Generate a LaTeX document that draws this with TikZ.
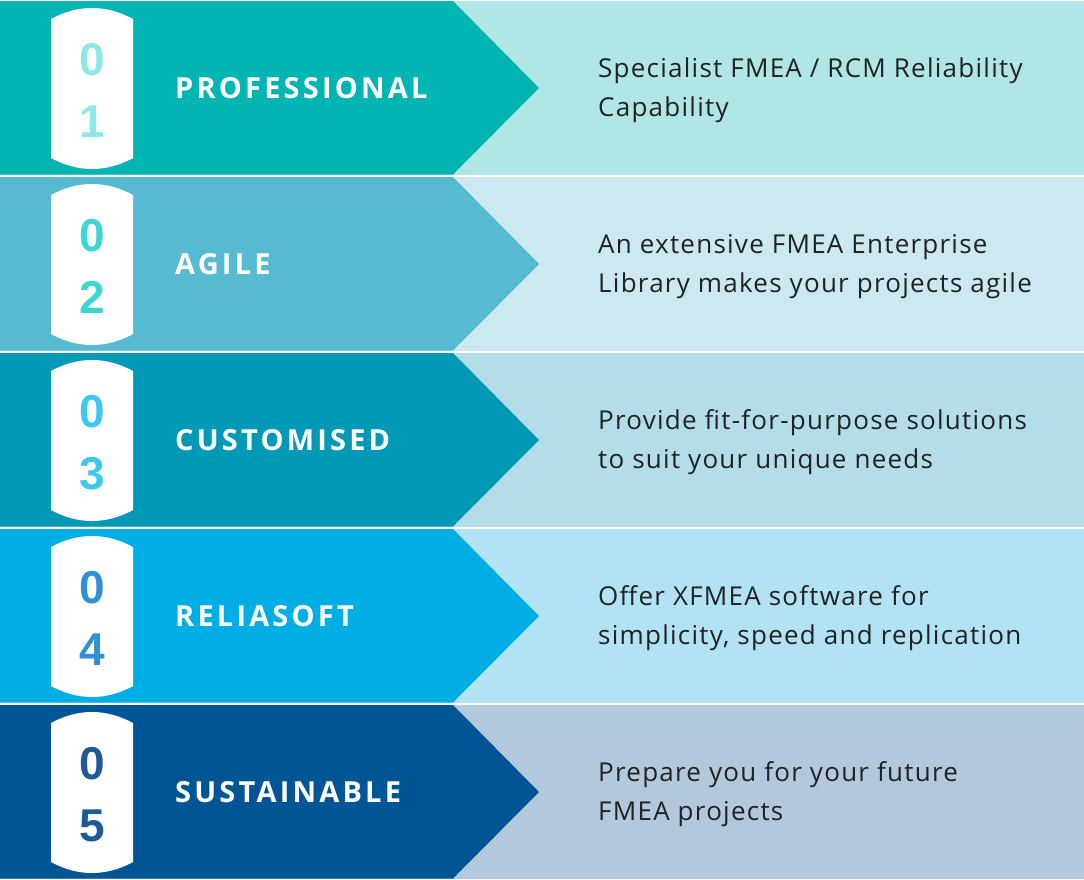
\documentclass[tikz,border=0pt]{standalone}
\usepackage{fontspec}
\newfontfamily\titlefont{Open Sans}[LetterSpace=11]
\newfontfamily\bodyfont{Open Sans}[LetterSpace=4.8]
\newfontfamily\digitfont{Liberation Sans}
\definecolor{darkA}{HTML}{00B5B2}
\definecolor{lightA}{HTML}{B0E7E6}
\definecolor{digA}{HTML}{8EE8E6}
\definecolor{darkB}{HTML}{56BAD0}
\definecolor{lightB}{HTML}{CCE9F1}
\definecolor{digB}{HTML}{3DD6D3}
\definecolor{darkC}{HTML}{0299B7}
\definecolor{lightC}{HTML}{B3DEE9}
\definecolor{digC}{HTML}{3CC8EF}
\definecolor{darkD}{HTML}{00AEE6}
\definecolor{lightD}{HTML}{B2E3F4}
\definecolor{digD}{HTML}{3090D4}
\definecolor{darkE}{HTML}{005595}
\definecolor{lightE}{HTML}{B2C8DC}
\definecolor{digE}{HTML}{1F5A96}
\definecolor{bodytext}{HTML}{222222}
\tikzset{
  titlelabel/.style={anchor=base west,inner sep=0pt,text=white,font=\titlefont\bfseries\fontsize{29}{32}\selectfont},
  bodylabel/.style={anchor=base west,inner sep=0pt,text=bodytext,font=\bodyfont\fontsize{26}{38.5}\selectfont},
  digitlabel/.style={anchor=base,inner sep=0pt,font=\digitfont\bfseries\fontsize{46}{50}\selectfont},
}
\begin{document}
\begin{tikzpicture}[x=1pt,y=-1pt]
\useasboundingbox (0,0) rectangle (1084,879);
\fill[white] (0,0) rectangle (1084,879);
\foreach \i/\L/\T/\A/\B in {
  1/A/PROFESSIONAL/{Specialist FMEA / RCM Reliability}/Capability,
  2/B/AGILE/An extensive FMEA Enterprise/Library makes your projects agile,
  3/C/CUSTOMISED/Provide fit-for-purpose solutions/to suit your unique needs,
  4/D/RELIASOFT/Offer XFMEA software for/{simplicity, speed and replication},
  5/E/SUSTAINABLE/Prepare you for your future/FMEA projects}{
  \pgfmathsetmacro{\top}{1+176*(\i-1)}
  \pgfmathsetmacro{\bot}{\top+173.5}
  \pgfmathsetmacro{\mid}{\top+87}
  % light band
  \fill[light\L] (0,\top) rectangle (1084,\bot);
  % dark arrow
  \fill[dark\L] (0,\top) -- (453,\top) -- (539,\mid) -- (453,\bot) -- (0,\bot) -- cycle;
  % pill
  \fill[white] (51,\top+18) .. controls (78.3,\top+3.3) and (105.7,\top+3.3) .. (133,\top+18)
     -- (133,\top+157) .. controls (105.7,\top+171.7) and (78.3,\top+171.7) .. (51,\top+157) -- cycle;
  \node[digitlabel,text=dig\L] (d\i a) at (92,\top+74.5) {0};
  \node[digitlabel,text=dig\L] (d\i b) at (92,\top+136.5) {\i};
  \node[titlelabel] (t\i) at (175,\mid+10.5) {\T};
  \node[bodylabel] (b\i a) at (598,\top+76.5) {\A};
  \node[bodylabel] (b\i b) at (598,\top+115) {\B};
}
\end{tikzpicture}
\end{document}
